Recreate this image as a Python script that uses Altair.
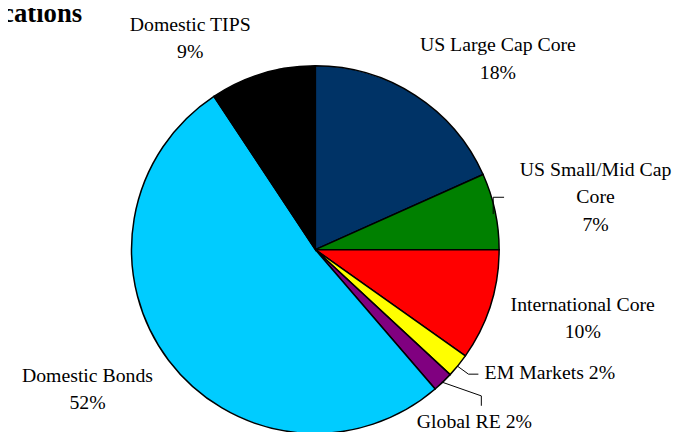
import math
import altair as alt
import pandas as pd

# ---- data ----
categories = ["US Large Cap Core", "US Small/Mid Cap Core", "International Core",
              "EM Markets", "Global RE", "Domestic Bonds", "Domestic TIPS"]
values = [18.3, 6.7, 9.8, 2.1, 1.8, 52.0, 9.3]
label_text = ["US Large Cap Core\n18%", "US Small/Mid Cap\nCore\n7%", "International Core\n10%",
              "EM Markets  2%", "Global RE  2%", "Domestic Bonds\n52%", "Domestic TIPS\n9%"]
colors = ["#003366", "#008000", "#FF0000", "#FFFF00", "#800080", "#00CCFF", "#000000"]
title_text = "Allocations"

df = pd.DataFrame({
    "category": categories,
    "value": values,
    "label": label_text,
    "order": list(range(len(categories))),
})

# ---- layout / style ----
W, H = 677, 424
CX, CY = 311, 242          # pie centre inside the plot area
R = 186                    # pie radius
LABEL_R = 200
FONT = "Liberation Serif"
# per-label style: align, dx, dy (offset from the slice's mid-angle anchor)
label_style = {
    "US Large Cap Core": ("center", 76, -33),
    "US Small/Mid Cap Core": ("center", 88, -33),
    "International Core": ("center", 80, 1),
    "EM Markets": ("left", 16, 5),
    "Global RE": ("left", -36, 36),
    "Domestic Bonds": ("center", -71, 13),
    "Domestic TIPS": ("center", -69, -30),
}
leader_segments = [
    (491, 206, 491, 189), (491, 189, 502, 189),
    (455, 360, 466, 368), (466, 368, 476, 368),
    (439, 376, 479, 390), (479, 390, 479, 400),
]

theta_scale = alt.Scale(domain=[0, 100], range=[0, 2 * math.pi])
color_scale = alt.Scale(domain=categories, range=colors)

base = alt.Chart(df)

pie = base.mark_arc(radius=R, stroke="black", strokeWidth=1.5).encode(
    theta=alt.Theta("value:Q", stack=True, scale=theta_scale),
    order=alt.Order("order:Q"),
    color=alt.Color("category:N", scale=color_scale, legend=None),
    x=alt.value(CX),
    y=alt.value(CY),
)

text_base = base.transform_window(
    cum="sum(value)", sort=[alt.SortField("order")], frame=[None, 0]
).transform_calculate(mid="datum.cum - datum.value / 2")

layers = [pie]
for cat in categories:
    align, dx, dy = label_style[cat]
    layers.append(
        text_base.transform_filter(alt.datum.category == cat)
        .mark_text(radius=LABEL_R, align=align, baseline="alphabetic", dx=dx, dy=dy,
                   font=FONT, fontSize=20, lineBreak="\n", lineHeight=28, color="black")
        .encode(
            theta=alt.Theta("mid:Q", stack=None, scale=theta_scale),
            text="label:N",
            x=alt.value(CX),
            y=alt.value(CY),
        )
    )

for (x1, y1, x2, y2) in leader_segments:
    layers.append(
        base.mark_rule(color="black", strokeWidth=1).encode(
            x=alt.value(x1), y=alt.value(y1), x2=alt.value(x2), y2=alt.value(y2)
        ).transform_filter(alt.datum.order == 0)
    )

title = alt.Chart(pd.DataFrame({"t": [title_text]})).mark_text(
    align="right", baseline="alphabetic", font=FONT, fontWeight="bold", fontSize=27, color="black"
).encode(x=alt.value(75), y=alt.value(12), text="t:N")
layers.append(title)

chart = alt.layer(*layers).properties(
    width=W, height=H, padding=0, autosize=alt.AutoSizeParams(type="none")
).configure_view(stroke=None)

chart.save("out.html", embed_options={"renderer": "svg", "actions": False})
